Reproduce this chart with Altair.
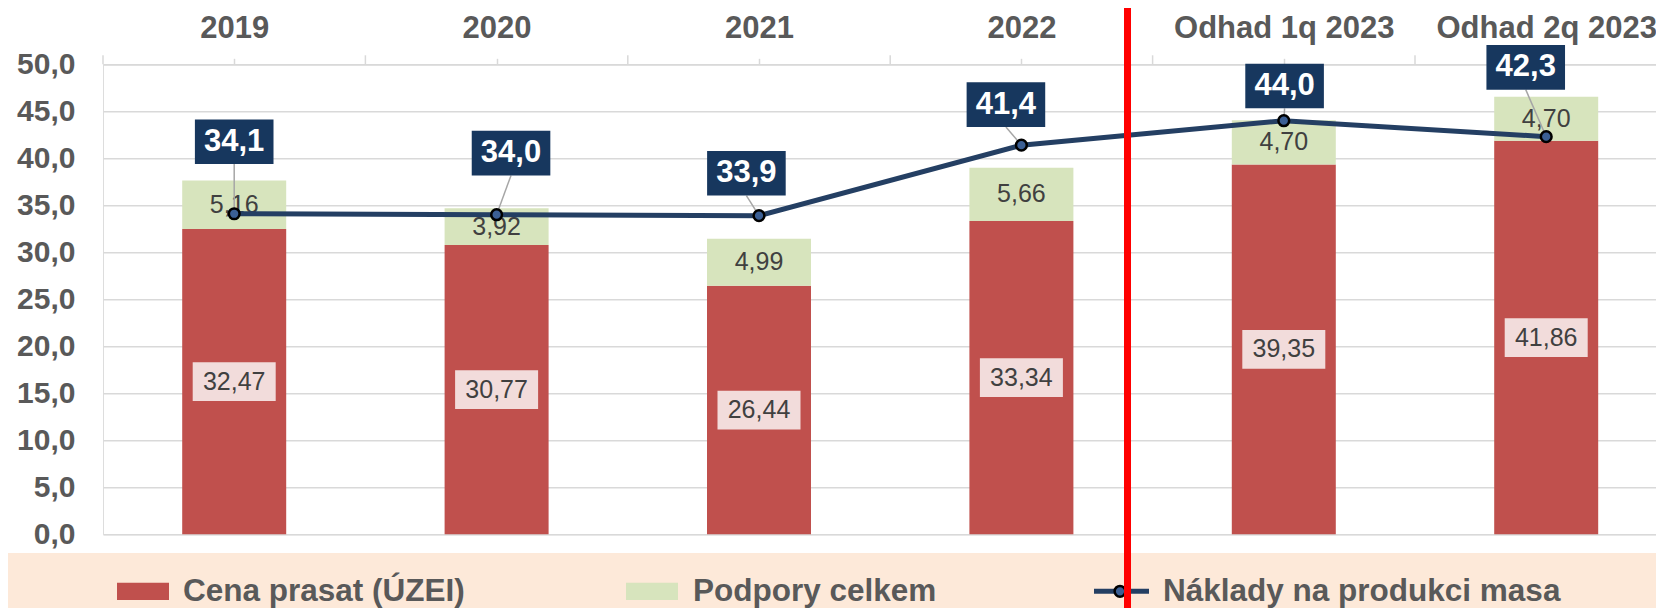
import json
import altair as alt
import pandas as pd

# ---------------- data ----------------
categories = ["2019", "2020", "2021", "2022", "Odhad 1q 2023", "Odhad 2q 2023"]
price = [32.47, 30.77, 26.44, 33.34, 39.35, 41.86]      # Cena prasat (ÚZEI)
support = [5.16, 3.92, 4.99, 5.66, 4.70, 4.70]          # Podpory celkem
cost = [34.1, 34.0, 33.9, 41.4, 44.0, 42.3]             # Náklady na produkci masa
series_names = ["Cena prasat (ÚZEI)", "Podpory celkem", "Náklady na produkci masa"]
y_ticks = [0, 5, 10, 15, 20, 25, 30, 35, 40, 45, 50]

# callout placement of the cost labels (category units / value units)
cost_label_dx = [0.0, 0.055, -0.048, -0.059, 0.003, -0.078]
cost_label_dy = [7.66, 6.56, 4.51, 4.30, 3.69, 7.38]

# ---------------- style ----------------
FONT = "Liberation Sans"
W, H = 1553, 470
PX_X = 262.4            # px per category
PX_Y = H / 50.0         # px per unit
RED = "#C0504D"
GREEN = "#D7E4BD"
NAVY = "#17375E"
LINE = "#243F63"
GRID = "#D9D9D9"
TXT = "#595959"

df = pd.DataFrame({
    "cat": categories,
    "i": list(range(len(categories))),
    "price": price,
    "support": support,
    "cost": cost,
    "ldx": cost_label_dx,
    "ldy": cost_label_dy,
})
bounds = pd.DataFrame({"b": list(range(len(categories) + 1))})
one = pd.DataFrame({"a": [0]})

xscale = alt.Scale(domain=[0, W / PX_X], nice=False, zero=False)
yscale = alt.Scale(domain=[0, 50], nice=False, zero=False)

label_expr = json.dumps(categories) + "[floor(datum.value)]"
x_axis = alt.Axis(
    orient="top", values=[i + 0.5 for i in range(len(categories))], labelExpr=label_expr,
    title=None, grid=False, labelFont=FONT, labelFontSize=31, labelFontWeight="bold",
    labelColor=TXT, tickSize=6, tickColor=GRID, tickWidth=1.5, domainColor=GRID,
    domainWidth=1.5, labelPadding=21, labelBaseline="alphabetic", labelFlush=False,
    labelOverlap=False, labelBound=False, labelLimit=0,
)
y_axis = alt.Axis(
    values=y_ticks, title=None, labelExpr="replace(format(datum.value, '.1f'), '.', ',')",
    labelFont=FONT, labelFontSize=30, labelFontWeight="bold", labelColor=TXT,
    ticks=False, domain=False, grid=True, gridColor=GRID, gridWidth=1.5,
    labelPadding=28, labelFlush=False, labelOverlap=False,
)


def X(field):
    return alt.X(field, type="quantitative", scale=xscale, axis=x_axis)


def Y(field):
    return alt.Y(field, type="quantitative", scale=yscale, axis=y_axis)


base = alt.Chart(df).transform_calculate(
    xc="datum.i + 0.5",
    total="datum.price + datum.support",
    pmid="datum.price / 2",
    smid="datum.price + datum.support / 2",
    lx="datum.i + 0.5 + datum.ldx",
    ly="datum.cost + datum.ldy",
    bx1=f"datum.i + 0.5 - {52 / PX_X}",
    bx2=f"datum.i + 0.5 + {52 / PX_X}",
    px1=f"datum.i + 0.5 - {41.5 / PX_X}",
    px2=f"datum.i + 0.5 + {41.5 / PX_X}",
    py1=f"datum.price / 2 - {19.35 / PX_Y}",
    py2=f"datum.price / 2 + {19.35 / PX_Y}",
    lx1=f"datum.i + 0.5 + datum.ldx - {39.3 / PX_X}",
    lx2=f"datum.i + 0.5 + datum.ldx + {39.3 / PX_X}",
    ly1=f"datum.cost + datum.ldy - {22.35 / PX_Y}",
    ly2=f"datum.cost + datum.ldy + {22.35 / PX_Y}",
    ptxt="replace(format(datum.price, '.2f'), '.', ',')",
    stxt="replace(format(datum.support, '.2f'), '.', ',')",
    ctxt="replace(format(datum.cost, '.1f'), '.', ',')",
    zero="0",
)

red_bars = base.mark_rect(color=RED).encode(
    x=X("bx1"), x2="bx2", y=Y("zero"), y2="price")
green_bars = base.mark_rect(color=GREEN).encode(
    x=X("bx1"), x2="bx2", y=Y("price"), y2="total")
pink_boxes = base.mark_rect(color="#F2DCDB").encode(
    x=X("px1"), x2="px2", y=Y("py1"), y2="py2")
price_txt = base.mark_text(font=FONT, fontSize=25, color="#404040", baseline="middle").encode(
    x=X("xc"), y=Y("pmid"), text="ptxt:N")
support_txt = base.mark_text(font=FONT, fontSize=25, color="#404040", baseline="middle").encode(
    x=X("xc"), y=Y("smid"), text="stxt:N")
leaders = base.mark_rule(color="#A6A6A6", strokeWidth=1.5).encode(
    x=X("lx"), x2="xc", y=Y("ly1"), y2="cost")
cost_line = base.mark_line(color=LINE, strokeWidth=5).encode(
    x=X("xc"), y=Y("cost"))
cost_pts = base.mark_circle(size=115, fill="#3B5F94", stroke="black", strokeWidth=2.5, opacity=1).encode(
    x=X("xc"), y=Y("cost"))
cost_boxes = base.mark_rect(color=NAVY).encode(
    x=X("lx1"), x2="lx2", y=Y("ly1"), y2="ly2")
cost_txt = base.mark_text(font=FONT, fontSize=31, fontWeight="bold", color="white", baseline="middle").encode(
    x=X("lx"), y=Y("ly"), text="ctxt:N")

bound_ticks = alt.Chart(bounds).mark_rule(color=GRID, strokeWidth=1.5).encode(
    x=X("b"), y=alt.value(-9), y2=alt.value(0))

# legend (drawn by hand, bottom band)
leg_bg = alt.Chart(one).mark_rect(color="#FDE9D9").encode(
    x=alt.value(-103), x2=alt.value(W), y=alt.value(488.7), y2=alt.value(560))
leg_red = alt.Chart(one).mark_rect(color=RED).encode(
    x=alt.value(14), x2=alt.value(66), y=alt.value(518.4), y2=alt.value(535.7))
leg_green = alt.Chart(one).mark_rect(color=GREEN).encode(
    x=alt.value(523), x2=alt.value(575), y=alt.value(518.4), y2=alt.value(535.7))
leg_line = alt.Chart(one).mark_rule(color=LINE, strokeWidth=5).encode(
    x=alt.value(991), x2=alt.value(1046), y=alt.value(527))
leg_pt = alt.Chart(one).mark_circle(size=115, fill="#3B5F94", stroke="black", strokeWidth=2.5, opacity=1).encode(
    x=alt.value(1017), y=alt.value(527))


def leg_text(txt, xpos):
    return alt.Chart(one).mark_text(
        text=txt, font=FONT, fontSize=31.5, fontWeight="bold", color=TXT,
        align="left", baseline="alphabetic",
    ).encode(x=alt.value(xpos), y=alt.value(537))


leg_t1 = leg_text(series_names[0], 80)
leg_t2 = leg_text(series_names[1], 590)
leg_t3 = leg_text(series_names[2], 1060)

sep = alt.Chart(one).mark_rule(color="#FF0000", strokeWidth=7).encode(
    x=alt.value(1024.5), y=alt.value(-70), y2=alt.value(560))

chart = alt.layer(
    red_bars, green_bars, pink_boxes, price_txt, support_txt,
    bound_ticks, leaders, cost_line, cost_pts, cost_boxes, cost_txt,
    leg_bg, leg_red, leg_green, leg_line, leg_pt, leg_t1, leg_t2, leg_t3, sep,
).properties(
    width=W, height=H,
    autosize=alt.AutoSizeParams(type="none"),
    padding={"left": 95, "top": 56.3, "right": 0, "bottom": 73.7},
    background="white",
).configure_view(stroke=None).configure(font=FONT)

chart.save("out.html", embed_options={"renderer": "svg", "actions": False})
